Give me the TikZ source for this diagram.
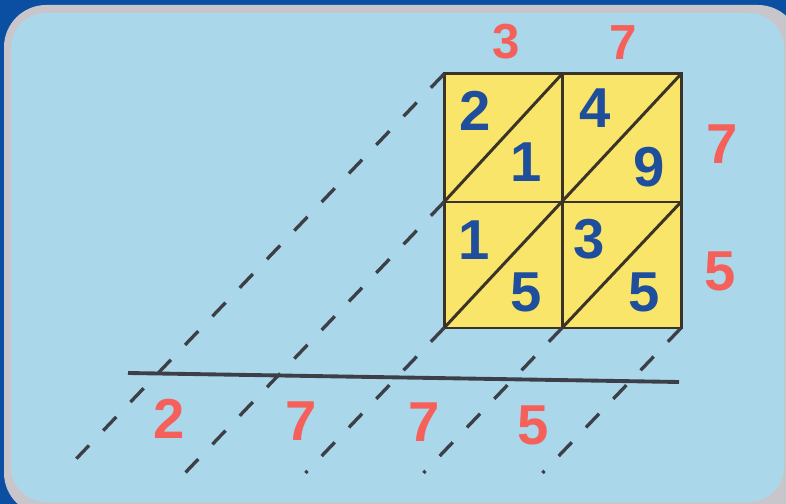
\documentclass[tikz,border=0pt]{standalone}
\usepackage{fontspec}
\setmainfont{Liberation Sans}
\usepackage{xcolor}
\usetikzlibrary{calc}

\definecolor{framebg}{HTML}{0B4FA3}
\definecolor{cardedge}{HTML}{C9C6CB}
\definecolor{cardblue}{HTML}{ABD7EA}
\definecolor{cellyellow}{HTML}{F8E56A}
\definecolor{gridbrown}{HTML}{3B3228}
\definecolor{dashgray}{HTML}{3D3F48}
\definecolor{digitblue}{HTML}{1F4E9C}
\definecolor{sumred}{HTML}{F5605A}

\tikzset{
    celldigit/.style={text=digitblue, inner sep=0pt, font=\bfseries\fontsize{16}{16}\selectfont},
    sumdigit/.style={text=sumred, inner sep=0pt, font=\bfseries\fontsize{16}{16}\selectfont},
    topdigit/.style={sumdigit, font=\bfseries\fontsize{14}{14}\selectfont},
    gridline/.style={draw=gridbrown, line width=0.85pt},
    diagline/.style={draw=dashgray, line width=0.95pt, dash pattern=on 0.19cm off 0.205cm},
    sumline/.style={draw=dashgray, line width=1.1pt},
}

\begin{document}
\begin{tikzpicture}[x=0.01cm, y=-0.01cm]
    \useasboundingbox (0,0) rectangle (786,504);

    % Card
    \fill[framebg] (0,0) rectangle (786,504);
    \fill[cardedge, rounded corners=12pt] (4,5) rectangle (800,515);
    \fill[cardblue, rounded corners=10pt] (11,13) rectangle (784,502);

    % Lattice corners
    \coordinate (tl) at (444,74);
    \coordinate (tm) at (562,74);
    \coordinate (tr) at (681,74);
    \coordinate (ml) at (444,202);
    \coordinate (mm) at (562,202);
    \coordinate (mr) at (681,202);
    \coordinate (bl) at (444,328);
    \coordinate (bm) at (562,328);
    \coordinate (br) at (681,328);

    % Lattice
    \fill[cellyellow] (tl) rectangle (br);
    \draw[gridline] (tl) rectangle (br);
    \draw[gridline] (ml) -- (mr);
    \draw[gridline] (tm) -- (bm);
    \draw[gridline] (ml) -- (tm);
    \draw[gridline] (bl) -- (tr);
    \draw[gridline] (bm) -- (mr);

    % Diagonals carried down
    \foreach \corner/\len in {tl/532, ml/374, bl/200.5, bm/200.5, br/200.5}
        \draw[diagline] (\corner) -- ++({-0.691*\len},{0.723*\len});

    % Result line
    \coordinate (sumL) at (128,373);
    \coordinate (sumR) at (679,382);
    \draw[sumline] (sumL) -- (sumR);

    % Factors
    \node[topdigit] (top3) at (506,42) {3};
    \node[topdigit] (top7) at (623,43) {7};
    \node[sumdigit] (side7) at (722,144) {7};
    \node[sumdigit] (side5) at (720,271) {5};

    % Partial products
    \node[celldigit] (a2) at (475,111) {2};
    \node[celldigit] (a1) at (526,162) {1};
    \node[celldigit] (b4) at (595,108) {4};
    \node[celldigit] (b9) at (649,167) {9};
    \node[celldigit] (c1) at (474,240) {1};
    \node[celldigit] (c5) at (526,292) {5};
    \node[celldigit] (d3) at (589,239) {3};
    \node[celldigit] (d5) at (644,292) {5};

    % Product
    \node[sumdigit] (p2) at (169,419) {2};
    \node[sumdigit] (p7) at (301,421) {7};
    \node[sumdigit] (q7) at (424,422) {7};
    \node[sumdigit] (q5) at (533,425) {5};
\end{tikzpicture}
\end{document}
